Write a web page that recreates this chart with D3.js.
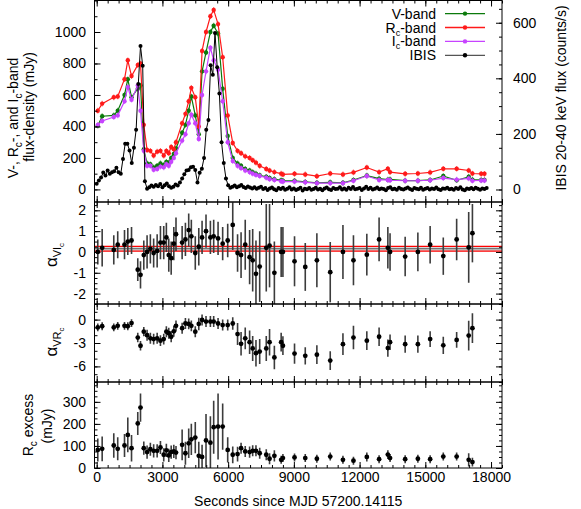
<!DOCTYPE html>
<html>
<head>
<meta charset="utf-8">
<script src="https://cdnjs.cloudflare.com/ajax/libs/d3/7.8.5/d3.min.js"></script>
<style>
body { margin: 0; background: #fff; }
text { font-family: "Liberation Sans", Arial, sans-serif; font-size: 14px; fill: #000; }
</style>
</head>
<body>
<svg id="canvas" width="581" height="509"></svg>
<script>
// optical epochs, seconds since MJD 57200.14115
var optTime = [50, 250, 780, 960, 1270, 1420, 1590, 1875, 2000, 2150,
               2300, 2450, 2600, 2760, 2910, 3060, 3180, 3290, 3400, 3520,
               3620, 3900, 4050, 4200, 4320, 4500, 4660, 4810, 4990, 5190,
               5340, 5540, 5750, 5980, 6210, 6430, 6590, 6780, 6980, 7120,
               7270, 7440, 7740, 7890, 8110, 8420, 8500, 9030, 9520, 10050,
               10660, 11240, 11720, 12330, 12890, 13290, 13390, 14080, 14660, 15220,
               15820, 16430, 16980, 17150, 17550, 17700]

// flux densities (mJy)
var vBand = [405, 465, 470, 500, 600, 700, 585, 640, 660, 255,
             165, 160, 140, 150, 165, 155, 175, 170, 200, 225,
             260, 360, 410, 500, 590, 470, 350, 750, 870, 1000,
             1040, 990, 640, 340, 200, 165, 150, 130, 120, 110,
             100, 90, 80, 72, 65, 58, 55, 55, 48, 42,
             45, 42, 60, 88, 68, 62, 64, 56, 56, 60,
             85, 58, 80, 62, 60, 60]
var rBand = [500, 545, 585, 590, 700, 820, 720, 790, 800, 410,
             250, 245, 215, 240, 245, 215, 245, 230, 270, 255,
             300, 420, 480, 560, 645, 585, 400, 880, 1000, 1100,
             1140, 1050, 840, 470, 295, 245, 230, 210, 200, 185,
             170, 150, 130, 120, 110, 100, 95, 99, 95, 84,
             101, 95, 108, 139, 110, 131, 110, 99, 101, 108,
             131, 131, 120, 101, 99, 99]
var iBand = [410, 435, 460, 470, 560, 650, 570, 660, 500, 245,
             150, 150, 125, 130, 145, 140, 160, 150, 175, 200,
             230, 310, 350, 420, 475, 420, 320, 600, 750, 900,
             820, 760, 560, 300, 180, 150, 135, 120, 110, 100,
             92, 85, 75, 65, 60, 52, 50, 50, 45, 40,
             40, 40, 55, 85, 60, 60, 58, 55, 55, 58,
             72, 62, 70, 55, 57, 57]
var bandErr = 18

// colour indices and Rc excess share the first 64 epochs
var alphaTime = optTime.slice(0, 64)
var alphaVI = [0.0, 0.2, 0.1, 0.35, 0.35, 0.5, 0.55, -0.85, -1.1, -0.15,
               0.0, 0.15, -0.05, 0.05, 0.45, 0.45, 0.7, -0.15, -0.3, 0.4,
               0.85, 0.45, 0.6, 1.05, 0.75, -0.05, 0.25, 0.7, 1.0, 0.7,
               0.75, 0.65, 0.4, 0.55, 1.3, -0.05, -0.15, 0.35, -0.25, -0.4,
               -1.05, -0.7, 0.2, 0.3, -1.0, 0.0, 0.0, -0.45, -0.72, -0.4,
               -0.97, 0.0, -0.4, -0.13, 0.6, 0.2, 0.0, -0.22, 0.0, 0.35,
               -0.2, 0.6, 0.22, 0.9]
var alphaVIerr = [0.6, 0.9, 0.7, 0.65, 0.7, 0.65, 0.65, 0.55, 0.65, 0.7,
                  0.8, 0.7, 0.7, 0.8, 0.8, 0.8, 0.7, 0.8, 0.8, 0.8,
                  0.8, 0.8, 0.8, 0.8, 0.8, 0.8, 0.9, 0.8, 0.8, 0.8,
                  0.8, 0.8, 0.8, 0.8, 1.2, 0.9, 1.1, 1.2, 1.3, 1.5,
                  1.6, 1.7, 2.1, 2.0, 1.5, 1.2, 1.2, 1.2, 1.15, 1.3,
                  1.45, 1.3, 1.2, 1.0, 1.05, 1.0, 0.9, 0.95, 0.93, 0.9,
                  0.9, 1.0, 1.7, 1.4]
var viBand = [0.04, 0.155, 0.27]   // lower, mean, upper

var alphaVR = [-1.0, -0.85, -1.0, -0.8, -0.8, -0.85, -0.45, -2.3, -3.35, -1.55,
               -2.0, -2.4, -2.5, -2.4, -2.7, -2.5, -1.55, -1.75, -2.2, -1.5,
               -0.8, -1.1, -0.5, -0.55, -0.8, -1.55, -0.55, -0.05, -0.25, -0.25,
               -0.25, -0.5, -0.7, -0.7, -0.5, -1.85, -3.1, -2.4, -2.9, -3.7,
               -4.3, -4.1, -3.7, -2.9, -4.85, -2.9, -3.35, -4.35, -4.65, -4.5,
               -5.25, -3.15, -2.3, -2.7, -2.2, -3.65, -2.9, -3.15, -3.15, -2.5,
               -3.3, -2.6, -2.05, -1.1]
var alphaVRerr = [0.5, 0.5, 0.5, 0.5, 0.5, 0.5, 0.5, 0.6, 0.6, 0.6,
                  0.7, 0.7, 0.7, 0.7, 0.7, 0.7, 0.7, 0.7, 0.7, 0.7,
                  0.7, 0.7, 0.7, 0.7, 0.7, 0.7, 0.8, 0.7, 0.7, 0.7,
                  0.7, 0.7, 0.7, 0.7, 0.8, 1.4, 1.5, 1.4, 1.5, 1.6,
                  1.7, 1.6, 1.6, 1.7, 1.5, 1.2, 1.2, 1.3, 1.1, 1.2,
                  1.2, 1.4, 1.5, 1.2, 1.2, 1.1, 1.0, 1.1, 1.1, 1.0,
                  1.1, 1.0, 1.9, 1.9]

var rExcess = [82, 87, 102, 87, 102, 150, 90, 202, 274, 90,
               72, 85, 78, 78, 93, 60, 80, 57, 72, 75,
               70, 105, 67, 112, 130, 138, 55, 50, 125, 115,
               185, 188, 188, 82, 60, 63, 90, 75, 72, 78,
               78, 67, 60, 42, 55, 37, 45, 48, 45, 42,
               52, 37, 33, 50, 40, 61, 45, 40, 42, 40,
               52, 52, 37, 27]
var rExcessErr = [52, 56, 56, 52, 52, 79, 60, 52, 64, 30,
                  30, 30, 30, 30, 30, 30, 30, 30, 30, 30,
                  30, 70, 52, 67, 71, 71, 64, 55, 120, 120,
                  120, 150, 105, 57, 38, 33, 25, 25, 25, 25,
                  25, 25, 25, 25, 25, 18, 18, 18, 18, 18,
                  18, 18, 18, 20, 18, 20, 18, 18, 18, 18,
                  18, 18, 30, 20]

// IBIS 20-40 keV rate (counts/s), 100 s bins starting at t = 0
var ibisStart = 0
var ibisBin = 100
var ibisRate = [21, 32, 43, 61, 50, 68, 57, 62, 66, 78,
                62, 57, 110, 165, 165, 140, 95, 150, 215, 380,
                516, 445, 30, 3, 8, 14, 10, 16, 12, 20,
                8, 15, 22, 12, 6, 10, 18, 14, 25, 40,
                55, 68, 70, 80, 82, 70, 25, 60, 75, 113,
                215, 250, 447, 413, 563, 440, 345, 170, 95, 40,
                15, 6, 10, 14, 8, 12, 16, 9, 5, 11,
                7, 4, 8, 3, 6, 10, 2, 5, -2, 4,
                7, 1, -3, 5, 2, 6, -1, 3, 8, 0,
                4, -2, 2, 6, -4, 3, 1, 5, -1, 2,
                6, 0, 3, -3, 4, 7, 1, -2, 5, 2,
                3, 8, 0, 4, -1, 6, 2, 9, 1, 3,
                5, -2, 4, 10, 2, 6, 0, 3, 7, 1,
                4, 2, -3, 5, 8, 1, 3, -1, 6, 2,
                0, 4, 7, 2, -2, 5, 3, 1, 6, -1,
                3, 5, 0, 4, 2, 7, 1, -2, 4, 3,
                6, 1, 3, -1, 5, 2, 8, 0, -3, 4,
                2, 5, 1, 6, 3, -1, 4, 2, 5]

// tick labels
var xTicks = [0, 3000, 6000, 9000, 12000, 15000, 18000]
var fluxTicks = [0, 200, 400, 600, 800, 1000]
var rateTicks = [0, 200, 400, 600]
var viTicks = [-2, -1, 0, 1, 2]
var vrTicks = [-6, -3, 0]
var excessTicks = [0, 100, 200, 300]

var colV = '#0b7a0b', colR = '#ff1a1a', colI = '#c743ff'

var svg = d3.select('#canvas')
var left = 94.5, right = 502
var x = d3.scaleLinear().domain([-100, 18500]).range([left, right])

var p1 = {top: 0.5, bottom: 202}
var p2 = {top: 202, bottom: 304}
var p3 = {top: 304, bottom: 382}
var p4 = {top: 382, bottom: 468}

var yFlux = d3.scaleLinear().domain([-80, 1200]).range([p1.bottom, p1.top])
var yRate = d3.scaleLinear().domain([-45, 680]).range([p1.bottom, p1.top])
var yVI = d3.scaleLinear().domain([-2.5, 2.4]).range([p2.bottom, p2.top])
var yVR = d3.scaleLinear().domain([-8, 2]).range([p3.bottom, p3.top])
var yEx = d3.scaleLinear().domain([0, 390]).range([p4.bottom, p4.top])

function clipFor(id, p){
    svg.append('clipPath').attr('id', id)
        .append('rect').attr('x', left).attr('y', p.top)
        .attr('width', right - left).attr('height', p.bottom - p.top)
    return svg.append('g').attr('clip-path', 'url(#' + id + ')')
}

function noDomain(g){ g.select('.domain').remove() }

function drawFrame(p, y, ticks, minorStep, xLabels){
    let minorX = d3.range(0, 18501, 500)
    let lo = y.domain()[0], hi = y.domain()[1]
    let minorY = d3.range(Math.ceil(lo / minorStep) * minorStep, hi + 1e-9, minorStep)

    // x ticks on bottom and top edge, pointing inward
    svg.append('g').attr('transform', 'translate(0,' + p.bottom + ')')
        .call(d3.axisBottom(x).tickValues(minorX).tickSize(-3).tickFormat(''))
        .call(noDomain)
    svg.append('g').attr('transform', 'translate(0,' + p.bottom + ')')
        .call(d3.axisBottom(x).tickValues(xTicks).tickSize(-6).tickPadding(4)
            .tickFormat(xLabels ? (d => String(d)) : ''))
        .call(noDomain)
    svg.append('g').attr('transform', 'translate(0,' + p.top + ')')
        .call(d3.axisTop(x).tickValues(minorX).tickSize(-3).tickFormat(''))
        .call(noDomain)
    svg.append('g').attr('transform', 'translate(0,' + p.top + ')')
        .call(d3.axisTop(x).tickValues(xTicks).tickSize(-6).tickFormat(''))
        .call(noDomain)

    // y ticks on the left
    svg.append('g').attr('transform', 'translate(' + left + ',0)')
        .call(d3.axisLeft(y).tickValues(minorY).tickSize(-3).tickFormat(''))
        .call(noDomain)
    svg.append('g').attr('transform', 'translate(' + left + ',0)')
        .call(d3.axisLeft(y).tickValues(ticks).tickSize(-6).tickPadding(8.5).tickFormat(d => String(d)))
        .call(noDomain)

    svg.append('rect').attr('x', left).attr('y', p.top)
        .attr('width', right - left).attr('height', p.bottom - p.top)
        .attr('fill', 'none').attr('stroke', '#000').attr('stroke-width', 1)
}

function mirrorRight(y, ticks, minorStep){
    let lo = y.domain()[0], hi = y.domain()[1]
    let minorY = d3.range(Math.ceil(lo / minorStep) * minorStep, hi + 1e-9, minorStep)
    svg.append('g').attr('transform', 'translate(' + right + ',0)')
        .call(d3.axisRight(y).tickValues(minorY).tickSize(-3).tickFormat(''))
        .call(noDomain)
    svg.append('g').attr('transform', 'translate(' + right + ',0)')
        .call(d3.axisRight(y).tickValues(ticks).tickSize(-6).tickFormat(''))
        .call(noDomain)
}

function drawBand(g, vals, color){
    let pts = optTime.map((t, i) => [t, vals[i]])
    g.append('g').selectAll('line').data(pts).join('line')
        .attr('x1', d => x(d[0])).attr('x2', d => x(d[0]))
        .attr('y1', d => yFlux(d[1] - bandErr)).attr('y2', d => yFlux(d[1] + bandErr))
        .attr('stroke', color).attr('stroke-opacity', 0.6).attr('stroke-width', 1.2)
    g.append('path').datum(pts)
        .attr('d', d3.line().x(d => x(d[0])).y(d => yFlux(d[1])))
        .attr('fill', 'none').attr('stroke', color).attr('stroke-width', 1.2)
    g.append('g').selectAll('circle').data(pts).join('circle')
        .attr('cx', d => x(d[0])).attr('cy', d => yFlux(d[1])).attr('r', 2.2)
        .style('fill', color)
}

function drawErrPoints(g, y, vals, errs){
    let pts = alphaTime.map((t, i) => [t, vals[i], errs[i]])
    g.append('g').selectAll('line').data(pts).join('line')
        .attr('x1', d => x(d[0])).attr('x2', d => x(d[0]))
        .attr('y1', d => y(d[1] - d[2])).attr('y2', d => y(d[1] + d[2]))
        .attr('stroke', '#3c3c3c').attr('stroke-width', 1.6)
    g.append('g').selectAll('circle').data(pts).join('circle')
        .attr('cx', d => x(d[0])).attr('cy', d => y(d[1])).attr('r', 2.4)
        .style('fill', '#000')
}

function rotLabel(x0, y0, parts){
    let t = svg.append('text')
        .attr('transform', 'translate(' + x0 + ',' + y0 + ') rotate(-90)')
        .attr('text-anchor', 'middle')
    parts.forEach(p => {
        t.append('tspan').text(p[0]).style('font-size', p[1] + 'px').attr('dy', p[2] || 0)
    })
}

// ---- panel 1: light curves
var g1 = clipFor('c1', p1)
drawBand(g1, vBand, colV)
drawBand(g1, rBand, colR)
drawBand(g1, iBand, colI)

var ibisPts = ibisRate.map((v, i) => [ibisStart + i * ibisBin, v])
g1.append('path').datum(ibisPts)
    .attr('d', d3.line().x(d => x(d[0])).y(d => yRate(d[1])))
    .attr('fill', 'none').attr('stroke', '#000').attr('stroke-width', 1)
g1.append('g').selectAll('circle').data(ibisPts).join('circle')
    .attr('cx', d => x(d[0])).attr('cy', d => yRate(d[1])).attr('r', 2)
    .style('fill', '#000')

drawFrame(p1, yFlux, fluxTicks, 100, false)
var minorRate = d3.range(-0, 680, 50)
svg.append('g').attr('transform', 'translate(' + right + ',0)')
    .call(d3.axisRight(yRate).tickValues(minorRate).tickSize(-3).tickFormat(''))
    .call(noDomain)
svg.append('g').attr('transform', 'translate(' + right + ',0)')
    .call(d3.axisRight(yRate).tickValues(rateTicks).tickSize(-6).tickPadding(11).tickFormat(d => String(d)))
    .call(noDomain)

// legend
var legendItems = [
    {parts: [['V-band', 14]], color: colV, line: colV},
    {parts: [['R', 14], ['c', 9, 3], ['-band', 14, -3]], color: colR, line: colR},
    {parts: [['I', 14], ['c', 9, 3], ['-band', 14, -3]], color: colI, line: colI},
    {parts: [['IBIS', 14]], color: '#000', line: '#555'}
]
legendItems.forEach((it, i) => {
    let ly = 13.6 + i * 13.9
    let t = svg.append('text').attr('x', 436).attr('y', ly + 5).attr('text-anchor', 'end')
    it.parts.forEach(p => t.append('tspan').text(p[0]).style('font-size', p[1] + 'px').attr('dy', p[2] || 0))
    svg.append('line').attr('x1', 445).attr('x2', 485).attr('y1', ly).attr('y2', ly)
        .attr('stroke', it.line).attr('stroke-width', 1.3)
    svg.append('circle').attr('cx', 465).attr('cy', ly).attr('r', 2.2).style('fill', it.color)
})

// ---- panel 2: alpha VIc
var g2 = clipFor('c2', p2)
g2.append('rect').attr('x', left).attr('width', right - left)
    .attr('y', yVI(viBand[2])).attr('height', yVI(viBand[0]) - yVI(viBand[2]))
    .attr('fill', '#d8d8d8')
g2.append('g').selectAll('line').data(viBand).join('line')
    .attr('x1', left).attr('x2', right)
    .attr('y1', d => yVI(d)).attr('y2', d => yVI(d))
    .attr('stroke', (d, i) => i == 1 ? '#555' : '#ff0000').attr('stroke-width', 1.2)
drawErrPoints(g2, yVI, alphaVI, alphaVIerr)
drawFrame(p2, yVI, viTicks, 0.25, false)
mirrorRight(yVI, viTicks, 0.25)

// ---- panel 3: alpha VRc
var g3 = clipFor('c3', p3)
drawErrPoints(g3, yVR, alphaVR, alphaVRerr)
drawFrame(p3, yVR, vrTicks, 1, false)
mirrorRight(yVR, vrTicks, 1)

// ---- panel 4: Rc excess
var g4 = clipFor('c4', p4)
drawErrPoints(g4, yEx, rExcess, rExcessErr)
drawFrame(p4, yEx, excessTicks, 25, true)
mirrorRight(yEx, excessTicks, 25)

// ---- axis titles
rotLabel(18, 118, [['V-, R', 14], ['c', 10, 4], ['-, and I', 14, -4], ['c', 10, 4], ['-band', 14, -4]])
rotLabel(34, 107, [['flux-density (mJy)', 14]])
rotLabel(566, 98, [['IBIS 20-40 keV flux (counts/s)', 14]])
rotLabel(57, 255, [['\u03b1', 17], ['VI', 11, 4], ['c', 8, 3]])
rotLabel(57, 342, [['\u03b1', 17], ['VR', 11, 4], ['c', 8, 3]])
rotLabel(33, 425, [['R', 14], ['c', 10, 4], [' excess', 14, -4]])
rotLabel(52, 426, [['(mJy)', 14]])

svg.append('text').attr('x', (left + right) / 2).attr('y', 506)
    .attr('text-anchor', 'middle').text('Seconds since MJD 57200.14115')
</script>
</body>
</html>
